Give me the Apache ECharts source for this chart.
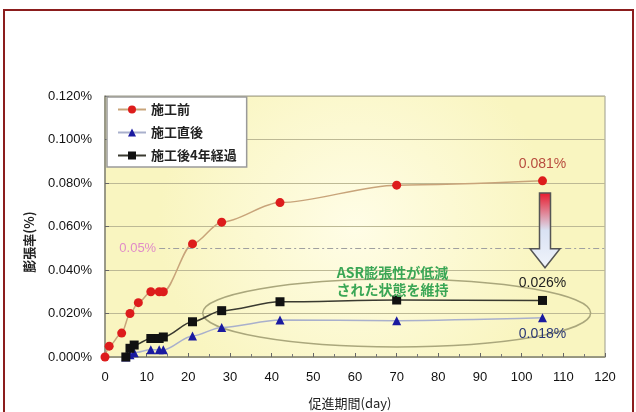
<!DOCTYPE html>
<html><head><meta charset="utf-8">
<script src="https://cdn.jsdelivr.net/npm/echarts@6/dist/echarts.min.js"></script>
<style>html,body{margin:0;padding:0;background:#fff}#c{width:636px;height:412px}</style>
</head><body><div id="c"></div>
<script>
// Data (膨張率 in %)
const seriesNames = ['施工前', '施工直後', '施工後4年経過'];
const daysBefore = [0, 1, 4, 6, 8, 11, 13, 14, 21, 28, 42, 70, 105];
const valBefore  = [0.000, 0.005, 0.011, 0.020, 0.025, 0.030, 0.030, 0.030, 0.052, 0.062, 0.071, 0.079, 0.081];
const daysAfter  = [5, 6, 7, 11, 13, 14, 21, 28, 42, 70, 105];
const valAfter   = [0.000, 0.001, 0.002, 0.0033, 0.0033, 0.0033, 0.0097, 0.0136, 0.017, 0.0167, 0.018];
const valAfter4y = [0.000, 0.004, 0.0055, 0.0085, 0.0085, 0.0092, 0.0162, 0.0213, 0.0254, 0.0262, 0.026];
const xTicks = [0, 10, 20, 30, 40, 50, 60, 70, 80, 90, 100, 110, 120];
const yTicks = [0, 0.02, 0.04, 0.06, 0.08, 0.10, 0.12];
const refLevel = 0.05;
const endLabels = ['0.081%', '0.018%', '0.026%'];

const pairs = (xs, ys) => xs.map((x, i) => [x, ys[i]]);
const latin = '"Liberation Sans", Arial, sans-serif';
const cjk = '"Noto Sans CJK JP", sans-serif';

const chart = echarts.init(document.getElementById('c'));

function endPoint(idx, xs, ys, color, offY) {
  const n = xs.length - 1;
  return {
    symbol: 'circle', symbolSize: 0,
    data: [{ coord: [xs[n], ys[n]], value: endLabels[idx] }],
    label: { show: true, formatter: endLabels[idx], color: color, fontSize: 14, fontFamily: latin, offset: [0, offY] },
    silent: true
  };
}

const option = {
  animation: false,
  textStyle: { fontFamily: latin },
  grid: {
    left: 105, right: 31, top: 96, bottom: 55, show: true,
    backgroundColor: {
      type: 'radial', x: 0.5, y: 0.5, r: 0.75,
      colorStops: [{ offset: 0, color: '#fffde6' }, { offset: 1, color: '#f9f5c0' }]
    },
    borderColor: '#9c9c8c', borderWidth: 1
  },
  legend: {
    orient: 'vertical', left: 107, top: 97,
    padding: [6, 10, 5, 10], itemGap: 10, itemWidth: 28, itemHeight: 10,
    backgroundColor: '#ffffff', borderColor: '#9a9a9a', borderWidth: 1.5,
    textStyle: { fontFamily: cjk, fontSize: 13, fontWeight: 'bold', color: '#222' },
    data: seriesNames
  },
  xAxis: {
    type: 'value', min: 0, max: 120, interval: 10,
    axisLine: { show: true, lineStyle: { color: '#8a8a78', width: 1.5 } },
    axisTick: { show: true, inside: true, length: 4, lineStyle: { color: '#666' } },
    minorTick: { show: true, splitNumber: 2, length: 3, lineStyle: { color: '#777' } },
    splitLine: { show: false },
    axisLabel: { color: '#111', fontSize: 13, margin: 14, customValues: xTicks, fontFamily: latin }
  },
  yAxis: {
    type: 'value', min: 0, max: 0.12, interval: 0.02,
    axisLine: { show: true, lineStyle: { color: '#8a8a78', width: 1.5 } },
    axisTick: { show: true, inside: true, length: 4, lineStyle: { color: '#666' } },
    splitLine: { show: true, lineStyle: { color: '#bdb995', width: 1 } },
    axisLabel: { color: '#111', fontSize: 13, margin: 13, fontFamily: latin,
      formatter: v => v.toFixed(3) + '%' }
  },
  series: [
    {
      name: seriesNames[0], type: 'line', smooth: 0.3, smoothMonotone: 'x',
      data: pairs(daysBefore, valBefore),
      symbol: 'circle', symbolSize: 9,
      itemStyle: { color: '#dd1c1c' },
      lineStyle: { color: '#c8a47a', width: 1.5 },
      markLine: {
        silent: true, symbol: 'none',
        lineStyle: { type: [6, 3, 2, 3], color: '#a0a0a0', width: 1.2 },
        label: { show: true, position: 'start', formatter: '0.05%', color: '#e08cc8', fontSize: 13, fontFamily: latin, distance: 3 },
        data: [[{ coord: [13, refLevel] }, { coord: [120, refLevel] }]]
      },
      markPoint: endPoint(0, daysBefore, valBefore, '#b84c3e', -17),
      z: 3
    },
    {
      name: seriesNames[1], type: 'line', smooth: 0.3, smoothMonotone: 'x',
      data: pairs(daysAfter, valAfter),
      symbol: 'triangle', symbolSize: 9,
      itemStyle: { color: '#1a1aa0' },
      lineStyle: { color: '#a9b0cc', width: 1.5 },
      markPoint: endPoint(1, daysAfter, valAfter, '#2a3775', 16),
      z: 4
    },
    {
      name: seriesNames[2], type: 'line', smooth: 0.3, smoothMonotone: 'x',
      data: pairs(daysAfter, valAfter4y),
      symbol: 'rect', symbolSize: 9,
      itemStyle: { color: '#111111' },
      lineStyle: { color: '#3a3a30', width: 1.5 },
      markPoint: endPoint(2, daysAfter, valAfter4y, '#222222', -17),
      z: 5
    }
  ]
};
chart.setOption(option);

// Annotations placed through the chart's own scales
const px = (x, y) => chart.convertToPixel({ gridIndex: 0 }, [x, y]);
const aTop = px(105.6, 0.0754), aTip = px(105.6, 0.041);
const cx = aTop[0], hb = aTip[1] - 19;
const ellC = px(70, 0.0202);
const txt1 = px(69, 0.0387), txt2 = px(69, 0.0308);
const gridTop = px(0, 0.12), gridBot = px(120, 0);

chart.setOption({
  graphic: [
    { type: 'rect', shape: { x: 4, y: 10, width: 629, height: 430 }, style: { fill: 'none', stroke: '#8b1d1d', lineWidth: 2 }, silent: true },
    { type: 'ellipse', shape: { cx: ellC[0], cy: ellC[1], rx: 194, ry: 34 }, style: { fill: 'none', stroke: '#aaa77c', lineWidth: 1.5 }, z: 1, silent: true },
    { type: 'polygon', shape: { points: [[cx - 5.5, aTop[1]], [cx + 5.5, aTop[1]], [cx + 5.5, hb], [cx + 15, hb], [cx, aTip[1]], [cx - 15, hb], [cx - 5.5, hb]] },
      style: { fill: { type: 'linear', x: 0, y: 0, x2: 0, y2: 1, colorStops: [{ offset: 0, color: '#e8182a' }, { offset: 0.5, color: '#d9e2f3' }, { offset: 1, color: '#f1f4fb' }] },
      stroke: '#555', lineWidth: 1.5 }, z: 10, silent: true },
    { type: 'text', style: { text: 'ASR膨張性が低減', x: txt1[0], y: txt1[1], fill: '#3aa655', font: 'bold 14px "Noto Sans CJK JP"', align: 'center', verticalAlign: 'middle' }, z: 10 },
    { type: 'text', style: { text: 'された状態を維持', x: txt2[0], y: txt2[1], fill: '#3aa655', font: 'bold 14px "Noto Sans CJK JP"', align: 'center', verticalAlign: 'middle' }, z: 10 },
    { type: 'text', rotation: Math.PI / 2, x: 29, y: 242, style: { text: '膨張率(%)', fill: '#222', font: 'bold 13px "Noto Sans CJK JP"', align: 'center', verticalAlign: 'middle' }, z: 10 },
    { type: 'text', style: { text: '促進期間(day)', x: (gridTop[0] + gridBot[0]) / 2 - 5, y: 403, fill: '#222', font: '13px "Noto Sans CJK JP"', align: 'center', verticalAlign: 'middle' }, z: 10 }
  ]
});
</script>
</body></html>
